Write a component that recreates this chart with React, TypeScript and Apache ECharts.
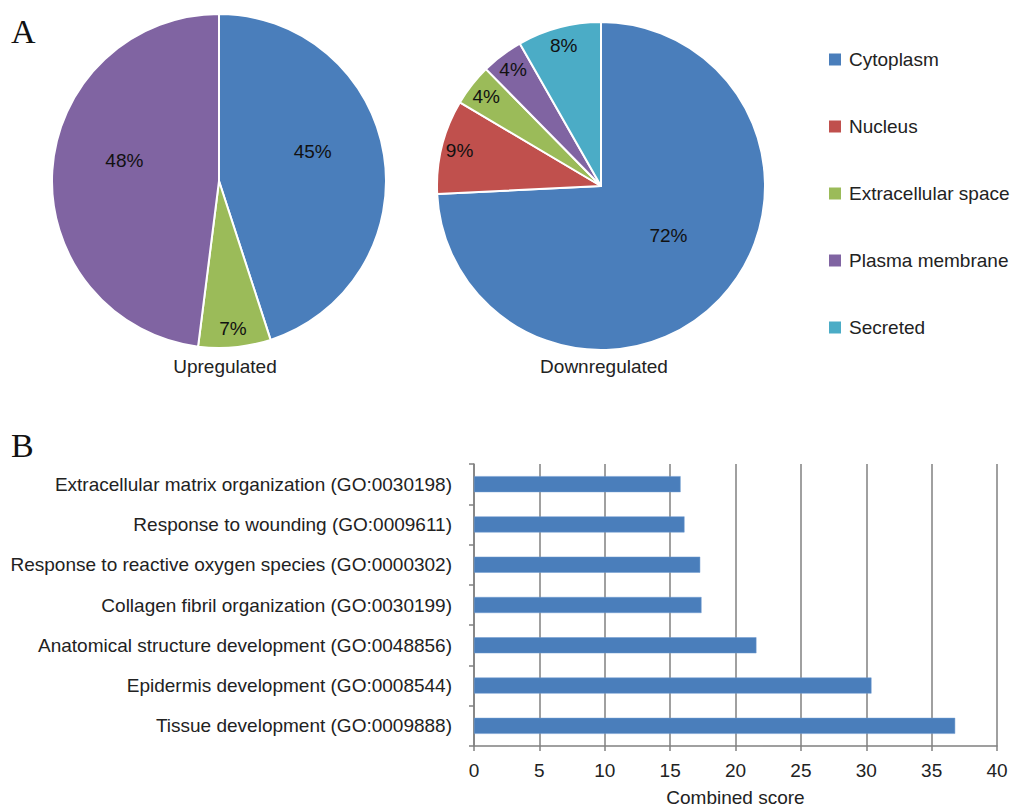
import React, { useEffect, useRef } from "react";
import * as echarts from "echarts";

const compartments = ["Cytoplasm", "Nucleus", "Extracellular space", "Plasma membrane", "Secreted"];
const compartmentColors = ["#4a7ebb", "#c0504d", "#9bbb59", "#8064a2", "#4bacc6"];

const upNames = ["Cytoplasm", "Extracellular space", "Plasma membrane"];
const upValues = [45, 7, 48];

const downNames = ["Cytoplasm", "Nucleus", "Extracellular space", "Plasma membrane", "Secreted"];
const downValues = [72, 9, 4, 4, 8];

const goTerms = [
  "Extracellular matrix organization (GO:0030198)",
  "Response to wounding (GO:0009611)",
  "Response to reactive oxygen species (GO:0000302)",
  "Collagen fibril organization (GO:0030199)",
  "Anatomical structure development (GO:0048856)",
  "Epidermis development (GO:0008544)",
  "Tissue development (GO:0009888)",
];
const goScores = [15.8, 16.1, 17.3, 17.4, 21.6, 30.4, 36.8];

const xTicks = { min: 0, max: 40, interval: 5 };

const FONT = "'Liberation Sans', Arial, sans-serif";
const SERIF = "'Liberation Serif', 'Times New Roman', serif";
const FS = 19;

function colorOf(name: string) {
  return compartmentColors[compartments.indexOf(name)];
}

export default function App() {
  const ref = useRef<HTMLDivElement>(null);
  useEffect(() => {
    if (!ref.current) return;
    const chart = echarts.init(ref.current, null, { renderer: "svg" });

    const mainPie = (names: string[], values: number[], center: number[], r: number) => ({
      type: "pie",
      center,
      radius: [0, r],
      startAngle: 90,
      clockwise: true,
      avoidLabelOverlap: false,
      label: { show: false },
      labelLine: { show: false },
      itemStyle: { borderColor: "#ffffff", borderWidth: 2 },
      data: names.map((n, i) => ({ name: n, value: values[i], itemStyle: { color: colorOf(n) } })),
      z: 2,
    });

    const labelPie = (
      names: string[],
      values: number[],
      center: number[],
      r: number,
      inner: number,
      big: boolean
    ) => ({
      type: "pie",
      center,
      radius: [r * inner, r],
      startAngle: 90,
      clockwise: true,
      silent: true,
      avoidLabelOverlap: false,
      labelLine: { show: false },
      labelLayout: big ? { dy: -15 } : undefined,
      itemStyle: { color: "rgba(0,0,0,0)" },
      data: names.map((n, i) => ({
        name: n,
        value: values[i],
        label: {
          show: big ? values[i] >= 20 : values[i] < 20,
          position: "inside",
          formatter: "{c}%",
          color: "#111111",
          fontSize: FS,
          fontFamily: FONT,
        },
      })),
      z: 3,
    });

    const upCenter = [219, 181];
    const upR = 167;
    const downCenter = [601, 186];
    const downR = 164;

    chart.setOption({
      animation: false,
      backgroundColor: "#ffffff",
      legend: {
        data: compartments,
        orient: "vertical",
        left: 827,
        top: 50,
        padding: 0,
        icon: "rect",
        itemWidth: 14,
        itemHeight: 14,
        itemGap: 48,
        selectedMode: false,
        textStyle: { fontSize: FS, color: "#222222", fontFamily: FONT, padding: [0, 0, 0, 2] },
      },
      grid: { left: 474, right: 14, top: 464, bottom: 59, containLabel: false },
      xAxis: {
        type: "value",
        min: xTicks.min,
        max: xTicks.max,
        interval: xTicks.interval,
        name: "Combined score",
        nameLocation: "middle",
        nameGap: 42,
        nameTextStyle: { fontSize: FS, color: "#222222", fontFamily: FONT },
        axisLine: { show: true, lineStyle: { color: "#808080", width: 1.5 } },
        axisTick: { show: true, length: 5, lineStyle: { color: "#808080", width: 1.5 } },
        axisLabel: { fontSize: FS, color: "#222222", fontFamily: FONT, margin: 15 },
        splitLine: { show: true, lineStyle: { color: "#808080", width: 1.5 } },
      },
      yAxis: {
        type: "category",
        data: goTerms,
        inverse: true,
        axisLine: { show: true, lineStyle: { color: "#808080", width: 1.5 } },
        axisTick: { show: true, length: 5, lineStyle: { color: "#808080", width: 1.5 } },
        axisLabel: { fontSize: FS, color: "#222222", fontFamily: FONT, margin: 22 },
      },
      series: [
        mainPie(upNames, upValues, upCenter, upR),
        mainPie(downNames, downValues, downCenter, downR),
        labelPie(upNames, upValues, upCenter, upR, 0.1, true),
        labelPie(upNames, upValues, upCenter, upR, 0.74, false),
        labelPie(downNames, downValues, downCenter, downR, 0.1, true),
        labelPie(downNames, downValues, downCenter, downR, 0.74, false),
        {
          type: "bar",
          data: goScores,
          barWidth: 16,
          itemStyle: { color: "#4a7ebb", borderColor: "#6f9bd1", borderWidth: 0.5 },
        },
      ],
      graphic: [
        {
          type: "text",
          left: 11,
          top: 14,
          style: { text: "A", fontSize: 34, fontFamily: SERIF, fill: "#111111" },
        },
        {
          type: "text",
          left: 11,
          top: 428,
          style: { text: "B", fontSize: 34, fontFamily: SERIF, fill: "#111111" },
        },
        {
          type: "text",
          x: 225,
          y: 366,
          style: { text: "Upregulated", fontSize: FS, fontFamily: FONT, fill: "#222222", textAlign: "center", textVerticalAlign: "middle" },
        },
        {
          type: "text",
          x: 604,
          y: 366,
          style: { text: "Downregulated", fontSize: FS, fontFamily: FONT, fill: "#222222", textAlign: "center", textVerticalAlign: "middle" },
        },
      ],
    });
    return () => chart.dispose();
  }, []);
  return (
    <div
      ref={ref}
      style={{ position: "absolute", left: 0, top: 0, width: 1011, height: 808 }}
    />
  );
}
